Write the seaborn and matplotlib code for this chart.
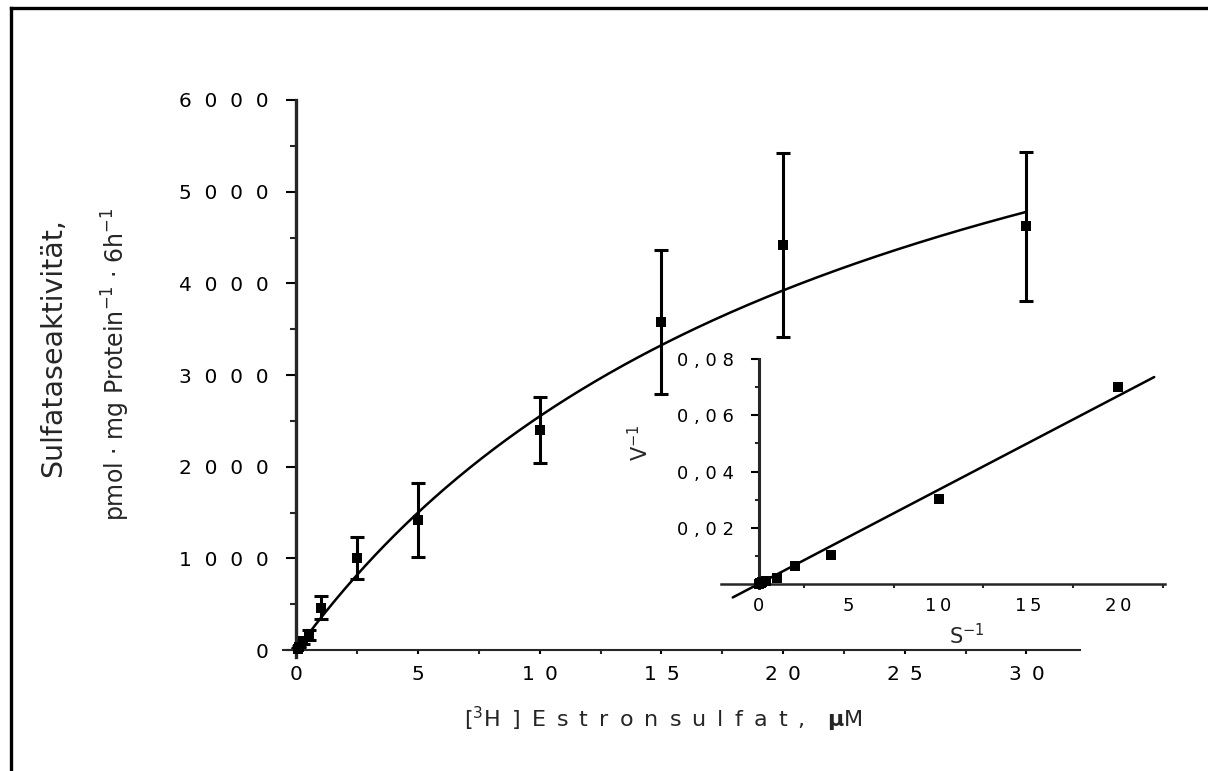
import numpy as np
import pandas as pd
import matplotlib
matplotlib.use("Agg")
import matplotlib.pyplot as plt
import seaborn as sns
from matplotlib.lines import Line2D
from matplotlib.ticker import FixedLocator, FuncFormatter

# ---------------- data ----------------
conc_uM = [0.05, 0.1, 0.25, 0.5, 1, 2.5, 5, 10, 15, 20, 30]
activity = [14, 33, 98, 160, 460, 1000, 1418, 2400, 3575, 4420, 4625]
activity_err = [5, 10, 30, 55, 125, 230, 408, 360, 785, 1005, 812]

# Michaelis-Menten fit curve parameters (fit line of the reference)
fit_Vmax = 8493
fit_Km = 23.3
fit_range = [0, 30]

# Lineweaver-Burk inset
inv_S = [0.033, 0.05, 0.067, 0.1, 0.2, 0.4, 1, 2, 4, 10, 20]
inv_V = [0.0002, 0.00025, 0.0003, 0.0004, 0.0007, 0.001, 0.0022, 0.0063, 0.0102, 0.0301, 0.0699]
lb_slope = 0.00334
lb_intercept = 0.0001
lb_range = [-1.45, 22]

main_xticks = [0, 5, 10, 15, 20, 25, 30]
main_yticks = [0, 1000, 2000, 3000, 4000, 5000, 6000]
inset_xticks = [0, 5, 10, 15, 20]
inset_yticks = [0.02, 0.04, 0.06, 0.08]
inset_yticklabels = ["0 , 0 2", "0 , 0 4", "0 , 0 6", "0 , 0 8"]

# ---------------- style ----------------
sns.set_style("ticks")
plt.rcParams["font.family"] = ["DejaVu Sans"]
plt.rcParams["mathtext.fontset"] = "dejavusans"

fig = plt.figure(figsize=(12.08, 7.71), dpi=100)

# figure frame (left and top edges visible)
fig.add_artist(Line2D([0.0087, 0.0087], [0.0, 0.9896], transform=fig.transFigure,
                      color="black", lw=2.4, solid_capstyle="projecting"))
fig.add_artist(Line2D([0.0087, 1.0], [0.9896, 0.9896], transform=fig.transFigure,
                      color="black", lw=2.4, solid_capstyle="projecting"))

# ---------------- main axes ----------------
ax = fig.add_axes([0.2343, 0.1479, 0.6597, 0.7224])
main_df = pd.DataFrame({"S": conc_uM, "V": activity, "err": activity_err})

xfit = np.linspace(fit_range[0], fit_range[1], 300)
yfit = fit_Vmax * xfit / (fit_Km + xfit)
sns.lineplot(x=xfit, y=yfit, ax=ax, color="black", lw=1.8)
ax.errorbar(main_df["S"], main_df["V"], yerr=main_df["err"], fmt="none",
            ecolor="black", elinewidth=2.2, capsize=4.7, capthick=2.2)
sns.scatterplot(data=main_df, x="S", y="V", ax=ax, marker="s", s=60,
                color="black", edgecolor="black", linewidth=0, zorder=5)

ax.set_xlim(-0.55, 32.2)
ax.set_ylim(-75, 6000)
for s in ["top", "right"]:
    ax.spines[s].set_visible(False)
ax.spines["left"].set_linewidth(2.4)
ax.spines["bottom"].set_linewidth(1.5)
ax.spines["left"].set_position(("data", 0))
ax.spines["bottom"].set_position(("data", 0))

ax.xaxis.set_major_locator(FixedLocator(main_xticks))
ax.xaxis.set_minor_locator(FixedLocator([2.5, 7.5, 12.5, 17.5, 22.5, 27.5]))
ax.yaxis.set_major_locator(FixedLocator(main_yticks))
ax.yaxis.set_minor_locator(FixedLocator([500, 1500, 2500, 3500, 4500, 5500]))
ax.xaxis.set_major_formatter(FuncFormatter(lambda v, p: "\u2002".join(str(int(v)))))
ax.yaxis.set_major_formatter(FuncFormatter(lambda v, p: "  ".join(str(int(v)))))
ax.tick_params(axis="y", which="major", direction="out", length=7.2, width=1.5,
               pad=13, labelsize=14.5, colors="black")
ax.tick_params(axis="y", which="minor", direction="out", length=4.3, width=1.5)
ax.tick_params(axis="x", which="major", direction="out", length=3, width=1.5,
               pad=8, labelsize=14.5, colors="black")
ax.tick_params(axis="x", which="minor", direction="out", length=3, width=1.5)
ax.set_xlabel("")
ax.set_ylabel("")

# axis titles
sp = "\u2002"
xlab = "[$^{3}$H" + sp + "]" + sp + sp.join("Estronsulfat,") + sp + sp + r"$\mathbf{\mu}$M"
fig.text(0.549, 0.0674, xlab, ha="center", va="center", fontsize=16)
fig.text(0.0439, 0.5486, "Sulfataseaktivität,", rotation=90,
         ha="center", va="center", fontsize=20.5)
fig.text(0.096, 0.528, r"pmol $\cdot$ mg Protein$^{-1}$ $\cdot$ 6h$^{-1}$", rotation=90,
         ha="center", va="center", fontsize=17)

# ---------------- inset ----------------
ins = fig.add_axes([0.5969, 0.2205, 0.3675, 0.3139])
ins.patch.set_alpha(0)
xl = np.array(lb_range)
sns.lineplot(x=xl, y=lb_slope * xl + lb_intercept, ax=ins, color="black", lw=1.8)
sns.scatterplot(x=inv_S, y=inv_V, ax=ins, marker="s", s=60, color="black",
                edgecolor="black", linewidth=0, zorder=5)
ins.set_xlim(-2.1, 22.6)
ins.set_ylim(-0.006, 0.08)
for s in ["top", "right"]:
    ins.spines[s].set_visible(False)
ins.spines["left"].set_position(("data", 0))
ins.spines["bottom"].set_position(("data", 0))
ins.spines["left"].set_bounds(-0.0015, 0.08)
ins.spines["left"].set_linewidth(2.2)
ins.spines["bottom"].set_linewidth(1.8)
ins.xaxis.set_major_locator(FixedLocator(inset_xticks))
ins.xaxis.set_minor_locator(FixedLocator([2.5, 7.5, 12.5, 17.5, 22.5]))
ins.yaxis.set_major_locator(FixedLocator(inset_yticks))
ins.yaxis.set_minor_locator(FixedLocator([0.01, 0.03, 0.05, 0.07]))
ins.set_yticklabels(inset_yticklabels)
ins.xaxis.set_major_formatter(FuncFormatter(lambda v, p: "\u2009".join(str(int(v)))))
ins.tick_params(axis="y", which="major", direction="out", length=5.8, width=1.5,
                pad=12, labelsize=13, colors="black")
ins.tick_params(axis="y", which="minor", direction="out", length=3, width=1.5)
ins.tick_params(axis="x", which="major", direction="out", length=0, width=1.5,
                pad=9.5, labelsize=13, colors="black")
ins.tick_params(axis="x", which="minor", direction="out", length=3, width=1.5)
ins.set_xlabel("")
ins.set_ylabel("")
fig.text(0.5298, 0.4254, r"V$^{-1}$", rotation=90, ha="center", va="center", fontsize=15)
fig.text(0.8005, 0.1751, r"S$^{-1}$", ha="center", va="center", fontsize=15)

fig.savefig("out.png", dpi=100)
